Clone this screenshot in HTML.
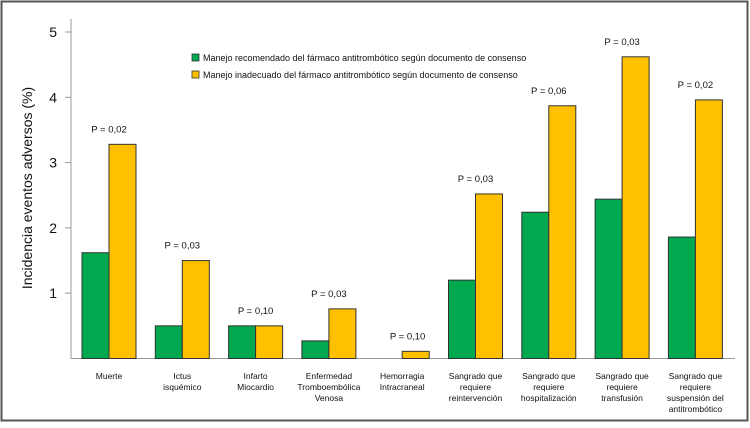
<!DOCTYPE html>
<html><head><meta charset="utf-8"><style>
body{margin:0;background:#fff;font-family:"Liberation Sans",sans-serif}
svg text{font-family:"Liberation Sans",sans-serif}
</style></head><body>
<svg width="750" height="423">
<rect x="1.5" y="1.5" width="746" height="419" fill="#fff" stroke="#555" stroke-width="2"/>
<g id="plot"></g>
</svg>
<script>
const categories=[["Muerte"],["Ictus","isquémico"],["Infarto","Miocardio"],["Enfermedad","Tromboembólica","Venosa"],["Hemorragia","Intracraneal"],["Sangrado que","requiere","reintervención"],["Sangrado que","requiere","hospitalización"],["Sangrado que","requiere","transfusión"],["Sangrado que","requiere","suspensión del","antitrombótico"]];
const recomendado=[1.62,0.5,0.5,0.27,0,1.2,2.24,2.44,1.86];
const inadecuado=[3.28,1.5,0.5,0.76,0.11,2.52,3.87,4.62,3.96];
const pLabels=["P = 0,02","P = 0,03","P = 0,10","P = 0,03","P = 0,10","P = 0,03","P = 0,06","P = 0,03","P = 0,02"];
const yTicks=[1,2,3,4,5];
const NS="http://www.w3.org/2000/svg";
const g=document.getElementById('plot');
const y0=358.5,pxU=65.3;
const y=v=>y0-v*pxU;
const groupX=i=>82+i*73.3;
const bw=27;
function mk(t,a,txt){const e=document.createElementNS(NS,t);for(const k in a)e.setAttribute(k,a[k]);if(txt!=null)e.textContent=txt;g.appendChild(e);return e;}
let e;
e=mk('line',{x1:71,y1:y(5.2),x2:71,y2:y0,stroke:'#999'});


e=mk('line',{x1:71,y1:y0,x2:735,y2:y0,stroke:'#999'});


yTicks.forEach(t=>{
 e=mk('line',{x1:65,y1:y(t),x2:71,y2:y(t),stroke:'#999'});
 
 
 e=mk('text',{x:57,y:y(t)+5,'text-anchor':'end','font-size':14,fill:'#111'},t);
 
 
});
e=mk('text',{x:0,y:0,transform:'translate(32,188) rotate(-90)','text-anchor':'middle','font-size':14,fill:'#111'},'Incidencia eventos adversos (%)');


categories.forEach((c,i)=>{
 const x=groupX(i);
 if(recomendado[i]>0){
 e=mk('rect',{x:x,y:y(recomendado[i]),width:bw,height:recomendado[i]*pxU,fill:'#00a84f',stroke:'#333','stroke-width':1});
 
 }
 e=mk('rect',{x:x+bw,y:y(inadecuado[i]),width:bw,height:inadecuado[i]*pxU,fill:'#ffc000',stroke:'#333','stroke-width':1});
 
 
 const top=Math.max(recomendado[i],inadecuado[i]);
 e=mk('text',{x:x+bw*(recomendado[i]>0?1:1.2),y:y(top)-12,'text-anchor':'middle','font-size':9.5,fill:'#111'},pLabels[i]);
 
 
 c.forEach((ln,j)=>{
  e=mk('text',{x:x+bw,y:379+j*11,'text-anchor':'middle','font-size':8.5,fill:'#111'},ln);
  
  
 });
});
e=mk('rect',{x:192,y:54,width:7,height:7,fill:'#00a84f',stroke:'#333','stroke-width':0.8});


e=mk('text',{x:203,y:61,'font-size':9,fill:'#111'},'Manejo recomendado del fármaco antitrombótico según documento de consenso');


e=mk('rect',{x:192,y:71,width:7,height:7,fill:'#ffc000',stroke:'#333','stroke-width':0.8});


e=mk('text',{x:203,y:78,'font-size':9,fill:'#111'},'Manejo inadecuado del fármaco antitrombótico según documento de consenso');


</script>
</body></html>
